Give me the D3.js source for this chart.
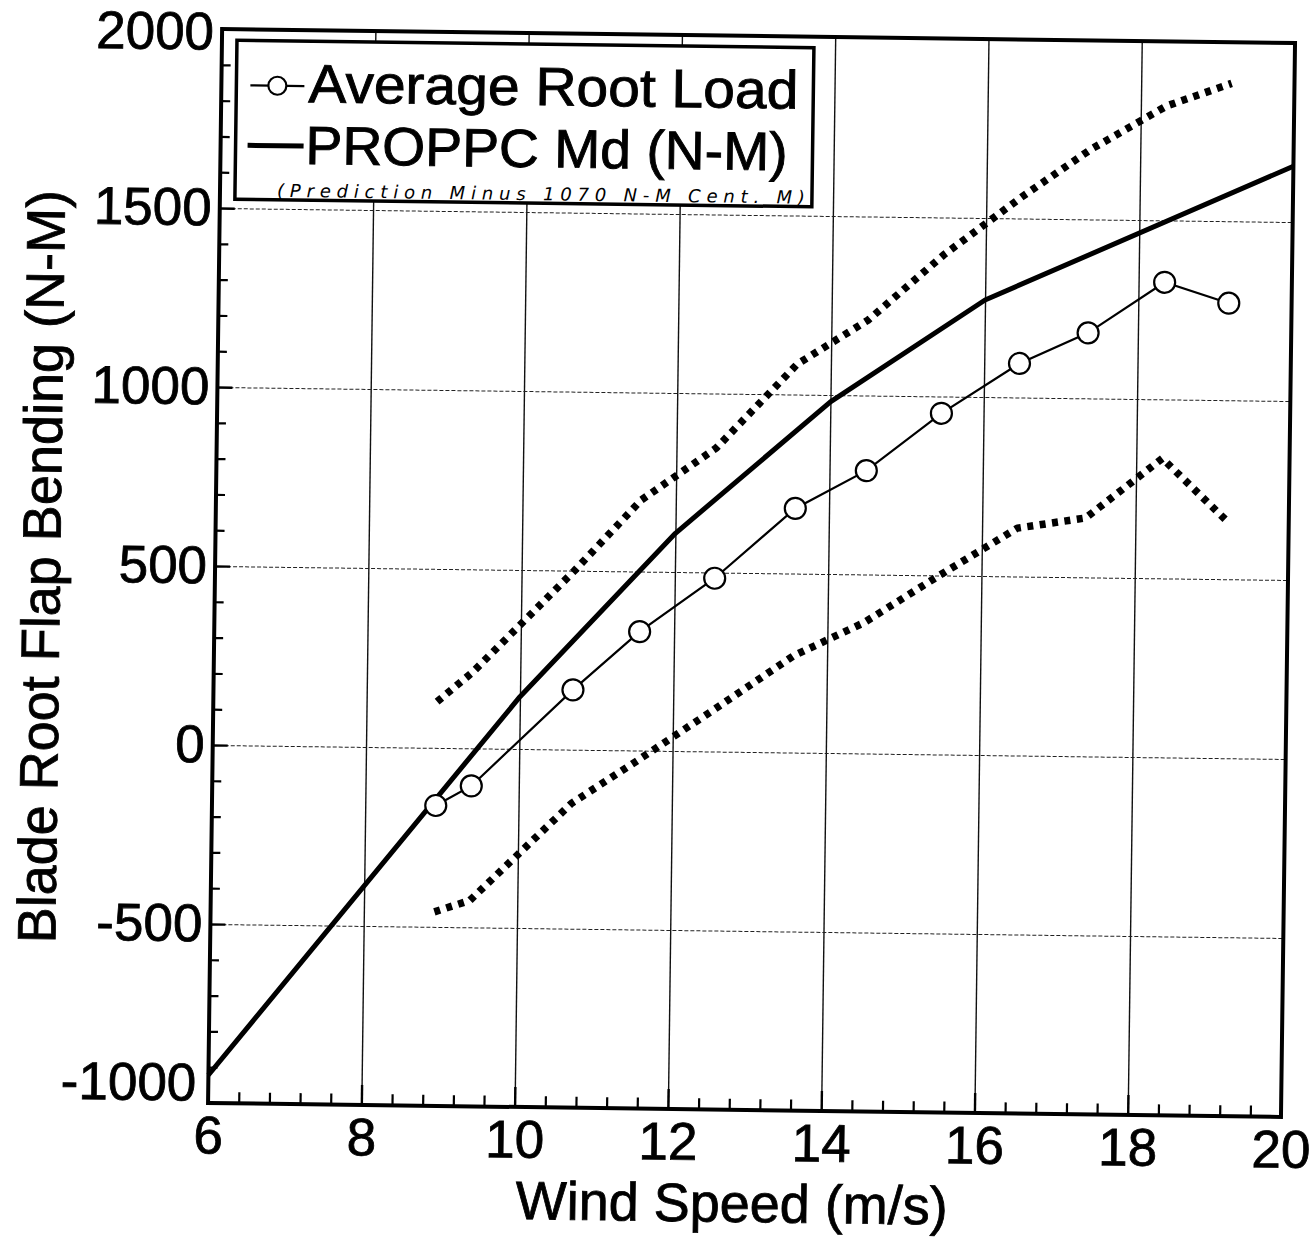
<!DOCTYPE html>
<html><head><meta charset="utf-8">
<script src="https://cdn.jsdelivr.net/npm/d3@7"></script>
<style>
html,body{margin:0;padding:0;background:#fff;}
svg{display:block;}
text{font-family:"Liberation Sans", Arial, Helvetica, sans-serif; fill:#000;}
</style></head><body>
<svg id="chart" width="1313" height="1238"></svg>
<script>
// ---- data ----
const windSpeed   = [8.92, 9.38, 10.69, 11.55, 12.52, 13.56, 14.48, 15.45, 16.46, 17.35, 18.34, 19.18];
const avgRootLoad = [-161, -105, 167, 332, 484, 682, 790, 953, 1095, 1183, 1327, 1271];
const upperBound  = [129, 213, 500, 700, 848, 1085, 1211, 1395, 1560, 1695, 1820, 1885];
const lowerBound  = [-458, -425, -150, -27, 115, 270, 366, 500, 635, 666, 835, 665];
const proppcSpeed = [6, 10, 12, 14, 16, 20];
const proppcMd    = [-922, 146, 608, 981, 1271, 1656];

const xMajorTicks = [6, 8, 10, 12, 14, 16, 18, 20];
const xMinorTicks = [6.4,6.8,7.2,7.6, 8.4,8.8,9.2,9.6, 10.4,10.8,11.2,11.6, 12.4,12.8,13.2,13.6,
                     14.4,14.8,15.2,15.6, 16.4,16.8,17.2,17.6, 18.4,18.8,19.2,19.6];
const yMajorTicks = [-1000, -500, 0, 500, 1000, 1500, 2000];
const yMinorTicks = [-900,-800,-700,-600,-400,-300,-200,-100,100,200,300,400,
                     600,700,800,900,1100,1200,1300,1400,1600,1700,1800,1900];
const xGridTicks = [8, 10, 12, 14, 16, 18];
const yGridTicks = [-500, 0, 500, 1000, 1500];

const xTitle = "Wind Speed (m/s)";
const yTitle = "Blade Root Flap Bending (N-M)";
const legendLabels = ["Average Root Load", "PROPPC Md (N-M)"];
const legendNote = "(Prediction Minus 1070 N-M Cent. M)";

// ---- drawing ----
const svg = d3.select('#chart');
svg.append('rect').attr('width', 1313).attr('height', 1238).attr('fill', '#fff');
const g = svg.append('g').attr('transform', 'rotate(0.75,752,576)');

const L = 215, R = 1288, T = 36, B = 1110;
const x = d3.scaleLinear().domain([6, 20]).range([L, R]);
const y = d3.scaleLinear().domain([-1000, 2000]).range([B, T]);
const fmt = d => String(d);

// gridlines
const gx = g.append('g').attr('transform', `translate(0,${B})`)
  .call(d3.axisBottom(x).tickValues(xGridTicks).tickSize(-(B - T)).tickFormat(''));
gx.select('.domain').remove();
gx.selectAll('line').attr('stroke', '#111').attr('stroke-width', 1.4);

const gy = g.append('g').attr('transform', `translate(${L},0)`)
  .call(d3.axisLeft(y).tickValues(yGridTicks).tickSize(-(R - L)).tickFormat(''));
gy.select('.domain').remove();
gy.selectAll('line').attr('stroke', '#222').attr('stroke-width', 1).attr('stroke-dasharray', '4 2');

// minor ticks
const mx = g.append('g').attr('transform', `translate(0,${B})`)
  .call(d3.axisBottom(x).tickValues(xMinorTicks).tickSize(-11).tickFormat(''));
mx.select('.domain').remove();
mx.selectAll('line').attr('stroke', '#000').attr('stroke-width', 2.2);

const my = g.append('g').attr('transform', `translate(${L},0)`)
  .call(d3.axisLeft(y).tickValues(yMinorTicks).tickSize(-9).tickFormat(''));
my.select('.domain').remove();
my.selectAll('line').attr('stroke', '#000').attr('stroke-width', 2.2);

// major ticks + labels
const ax = g.append('g').attr('transform', `translate(0,${B})`)
  .call(d3.axisBottom(x).tickValues(xMajorTicks).tickSize(-20).tickPadding(13).tickFormat(fmt));
ax.select('.domain').remove();
ax.selectAll('line').attr('stroke', '#000').attr('stroke-width', 2.4);
ax.selectAll('text').attr('font-size', 53).attr('stroke', '#000').attr('stroke-width', 0.8)
  .style('font-family', '"Liberation Sans", Arial, sans-serif');

const ay = g.append('g').attr('transform', `translate(${L},0)`)
  .call(d3.axisLeft(y).tickValues(yMajorTicks).tickSize(-15).tickPadding(8).tickFormat(fmt));
ay.select('.domain').remove();
ay.selectAll('line').attr('stroke', '#000').attr('stroke-width', 2.4);
ay.selectAll('text').attr('font-size', 53).attr('stroke', '#000').attr('stroke-width', 0.8)
  .style('font-family', '"Liberation Sans", Arial, sans-serif');
ay.selectAll('.tick').filter(d => d === -1000).select('text').attr('dx', -4).attr('dy', '-0.05em');
ay.selectAll('.tick').filter(d => d === 2000).select('text').attr('dy', '0.38em');

// frame
g.append('rect').attr('x', L).attr('y', T).attr('width', R - L).attr('height', B - T)
  .attr('fill', 'none').attr('stroke', '#000').attr('stroke-width', 4);

// legend
const lg = g.append('g');
lg.append('rect').attr('x', 230).attr('y', 47).attr('width', 577).attr('height', 159)
  .attr('fill', '#fff').attr('stroke', '#000').attr('stroke-width', 3.5);
lg.append('line').attr('x1', 244).attr('x2', 298).attr('y1', 92).attr('y2', 92)
  .attr('stroke', '#000').attr('stroke-width', 2.2);
lg.append('circle').attr('cx', 271).attr('cy', 92).attr('r', 9)
  .attr('fill', '#fff').attr('stroke', '#000').attr('stroke-width', 2.2);
lg.append('text').attr('x', 302).attr('y', 108).attr('font-size', 54)
  .attr('textLength', 490).attr('lengthAdjust', 'spacingAndGlyphs')
  .attr('stroke', '#000').attr('stroke-width', 0.9).text(legendLabels[0]);
lg.append('line').attr('x1', 242).attr('x2', 298).attr('y1', 152).attr('y2', 152)
  .attr('stroke', '#000').attr('stroke-width', 5);
lg.append('text').attr('x', 300).attr('y', 170).attr('font-size', 54)
  .attr('textLength', 482).attr('lengthAdjust', 'spacingAndGlyphs')
  .attr('stroke', '#000').attr('stroke-width', 0.9).text(legendLabels[1]);
lg.append('text').attr('x', 272).attr('y', 203).attr('font-size', 18)
  .attr('font-style', 'italic').style('font-family', '"DejaVu Sans", sans-serif')
  .attr('textLength', 528).attr('lengthAdjust', 'spacing').text(legendNote);

// dotted bounds
const boundLine = d3.line().x(d => x(d[0])).y(d => y(d[1]));
[upperBound, lowerBound].forEach(arr => {
  g.append('path').datum(windSpeed.map((s, i) => [s, arr[i]]))
    .attr('d', boundLine).attr('fill', 'none').attr('stroke', '#000')
    .attr('stroke-width', 7.5).attr('stroke-linecap', 'butt').attr('stroke-linejoin', 'round')
    .attr('stroke-dasharray', '6 6.5');
});

// PROPPC prediction
g.append('path').datum(proppcSpeed.map((s, i) => [s, proppcMd[i]]))
  .attr('d', boundLine).attr('fill', 'none').attr('stroke', '#000')
  .attr('stroke-width', 5).attr('stroke-linejoin', 'round');

// average root load
g.append('path').datum(windSpeed.map((s, i) => [s, avgRootLoad[i]]))
  .attr('d', boundLine).attr('fill', 'none').attr('stroke', '#000').attr('stroke-width', 2.2);
g.selectAll('circle.pt').data(windSpeed.map((s, i) => [s, avgRootLoad[i]])).enter()
  .append('circle').attr('class', 'pt')
  .attr('cx', d => x(d[0])).attr('cy', d => y(d[1])).attr('r', 10.5)
  .attr('fill', '#fff').attr('stroke', '#000').attr('stroke-width', 2.2);

// axis titles
g.append('text').attr('x', 740).attr('y', 1222).attr('text-anchor', 'middle')
  .attr('font-size', 54).attr('stroke', '#000').attr('stroke-width', 0.8).text(xTitle);
g.append('text').attr('transform', 'translate(60,576) rotate(-90)').attr('text-anchor', 'middle')
  .attr('font-size', 54).attr('stroke', '#000').attr('stroke-width', 0.8).text(yTitle);
</script>
</body></html>
